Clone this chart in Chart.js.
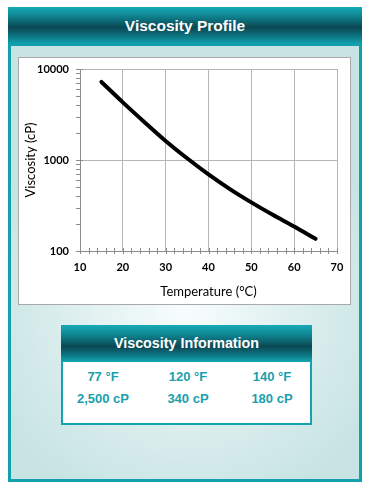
<!DOCTYPE html>
<html>
<head>
<meta charset="utf-8">
<script src="https://cdn.jsdelivr.net/npm/chart.js@4"></script>
<style>
  html, body { margin: 0; padding: 0; background: #fff; width: 372px; height: 492px; overflow: hidden; }
  body { position: relative; font-family: "Liberation Sans", Arial, sans-serif; }
  .panel { position: absolute; left: 8px; top: 7px; width: 354px; height: 475px; background: #12a0ad; }
  .panel-head {
    position: absolute; left: 0; top: 0; width: 354px; height: 37px;
    background: linear-gradient(to bottom, #16aab8 0%, #0f8894 22%, #0a4853 55%, #0d7884 80%, #13a2b0 100%);
    color: #fff; font-weight: bold; font-size: 15.5px; text-align: center; line-height: 37px;
  }
  .panel-body {
    position: absolute; left: 3px; top: 39px; width: 348px; height: 433px;
    background: radial-gradient(ellipse 62% 48% at 50% 61%, #f8fdfd 0%, #dceeee 55%, #c7e3e3 100%);
  }
  .chart-box { position: absolute; left: 18px; top: 57px; width: 331px; height: 246px; border: 1px solid #a9a9a9; background: #fff; }
  .info { position: absolute; left: 61px; top: 325px; width: 251px; height: 100px; background: #fff; box-sizing: border-box; border: 2px solid #16a3b1; }
  .info-head {
    position: absolute; left: -2px; top: -2px; width: 251px; height: 37px;
    background: linear-gradient(to bottom, #16aab8 0%, #0f8894 25%, #0a4853 58%, #0d7884 82%, #16a6b4 100%);
    color: #fff; font-weight: bold; font-size: 14.3px; text-align: center; line-height: 37px;
  }
  .cell { position: absolute; width: 90px; margin-left: -45px; text-align: center; color: #1a9fae; font-weight: bold; font-size: 13px; line-height: 16px; }
</style>
</head>
<body>
<div class="panel">
  <div class="panel-head">Viscosity Profile</div>
  <div class="panel-body"></div>
</div>
<div class="chart-box"><canvas id="chart" width="331" height="246"></canvas></div>
<div class="info">
  <div class="info-head">Viscosity Information</div>
</div>

<script>
// datos de la curva
const temps = [15, 20, 25, 30, 35, 40, 45, 50, 55, 60, 65];
const visc = [7200, 4300, 2620, 1620, 1045, 695, 479, 342, 250, 186, 136];
const xTicks = [10, 20, 30, 40, 50, 60, 70];
const yTicks = [100, 1000, 10000];

// tabla de informacion
const infoTemps = ['77 °F', '120 °F', '140 °F'];
const infoVisc = ['2,500 cP', '340 cP', '180 cP'];

// celdas de la tabla
const colX = [103, 188, 272];
infoTemps.forEach((t, i) => {
    const d = document.createElement('div');
    d.className = 'cell';
    d.style.left = colX[i] + 'px';
    d.style.top = '369px';
    d.textContent = t;
    document.body.appendChild(d);
    const d2 = document.createElement('div');
    d2.className = 'cell';
    d2.style.left = colX[i] + 'px';
    d2.style.top = '391px';
    d2.textContent = infoVisc[i];
    document.body.appendChild(d2);
});

// ticks menores tipo Excel
const minorTicks = {
    id: 'minorTicks',
    afterDraw(chart) {
        const ctx = chart.ctx;
        const x = chart.scales.x, y = chart.scales.y;
        ctx.save();
        ctx.strokeStyle = '#8c8c8c';
        ctx.lineWidth = 1;
        ctx.beginPath();
        [100, 1000].forEach(d => {
            for (let m = 1; m <= 10; m++) {
                const py = Math.round(y.getPixelForValue(m * d)) + 0.5;
                ctx.moveTo(x.left - 4, py);
                ctx.lineTo(x.left + (m === 1 || m === 10 ? 3 : 1), py);
            }
        });
        for (let v = 10; v <= 70; v += 2) {
            const px = Math.round(x.getPixelForValue(v)) + 0.5;
            ctx.moveTo(px, y.bottom - 3);
            ctx.lineTo(px, y.bottom + 3);
        }
        ctx.stroke();
        ctx.restore();
    }
};

new Chart(document.getElementById('chart').getContext('2d'), {
    type: 'line',
    data: {
        datasets: [{
            data: temps.map((t, i) => ({ x: t, y: visc[i] })),
            borderColor: '#000',
            borderWidth: 4,
            borderCapStyle: 'round',
            pointRadius: 0,
            cubicInterpolationMode: 'monotone',
            fill: false
        }]
    },
    options: {
        responsive: false,
        animation: false,
        devicePixelRatio: 1,
        layout: { padding: { top: 11, right: 13, left: 0, bottom: 0 } },
        plugins: { legend: { display: false }, tooltip: { enabled: false } },
        scales: {
            x: {
                type: 'linear',
                min: 10,
                max: 70,
                afterBuildTicks: s => { s.ticks = xTicks.map(v => ({ value: v })); },
                afterFit: s => { s.height = 53; s.paddingLeft = 0; s.paddingRight = 0; },
                grid: { color: '#b5b5b5', drawTicks: false },
                border: { color: '#8c8c8c' },
                ticks: { color: '#000', padding: 10, font: { family: 'Lato', weight: 'bold', size: 11 } },
                title: {
                    display: true,
                    text: 'Temperature (°C)',
                    color: '#000',
                    font: { family: 'Lato', size: 13 },
                    padding: { top: 2, bottom: 4 }
                }
            },
            y: {
                type: 'logarithmic',
                min: 100,
                max: 10000,
                afterBuildTicks: s => { s.ticks = yTicks.map(v => ({ value: v })); },
                afterFit: s => { s.width = 61; s.paddingTop = 0; s.paddingBottom = 0; },
                grid: { color: '#b5b5b5', drawTicks: false },
                border: { color: '#8c8c8c' },
                ticks: {
                    color: '#000',
                    padding: 11,
                    font: { family: 'Lato', weight: 'bold', size: 11 },
                    callback: v => String(v)
                },
                title: {
                    display: true,
                    text: 'Viscosity (cP)',
                    color: '#000',
                    font: { family: 'Lato', size: 13 },
                    padding: { top: 4, bottom: 2 }
                }
            }
        }
    },
    plugins: [minorTicks]
});
</script>
</body>
</html>
